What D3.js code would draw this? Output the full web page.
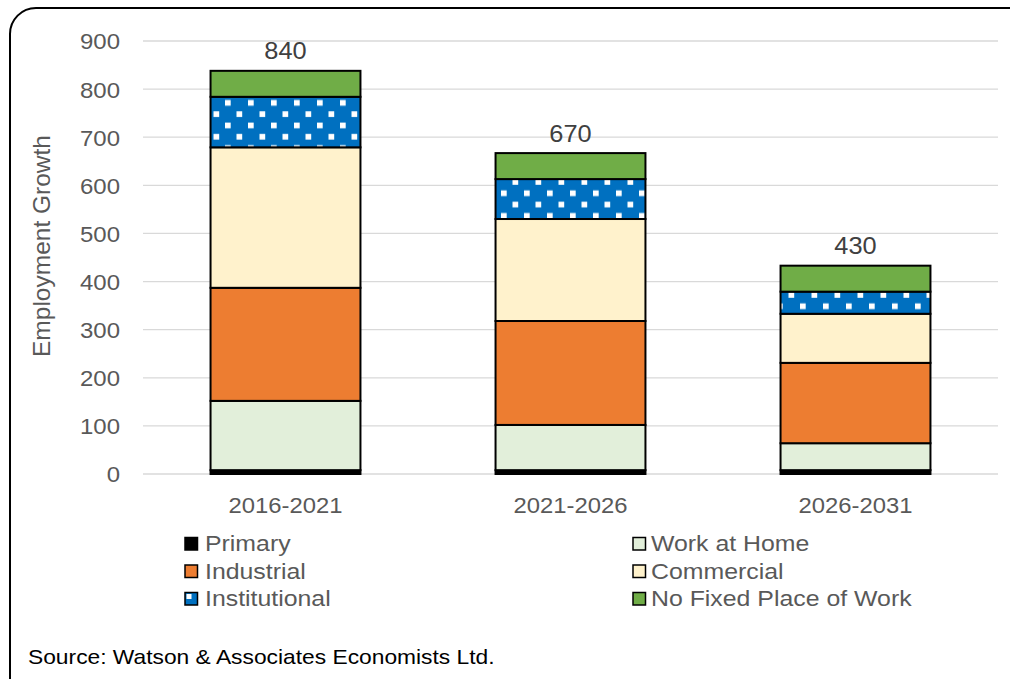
<!DOCTYPE html>
<html><head><meta charset="utf-8">
<script src="https://cdn.jsdelivr.net/npm/d3@7"></script>
<style>body{margin:0;background:#fff;}svg{display:block;font-family:"Liberation Sans",Arial,sans-serif;}</style>
</head><body>
<svg id="c" width="1010" height="679"></svg>
<script>
const categories = ["2016-2021", "2021-2026", "2026-2031"];
const seriesNames = ["Primary", "Work at Home", "Industrial", "Commercial", "Institutional", "No Fixed Place of Work"];
const primary = [8, 8, 8];
const workAtHome = [144, 94, 56];
const industrial = [235, 216, 167];
const commercial = [292, 212, 102];
const institutional = [105, 83, 46];
const noFixedPlace = [54, 54, 54];
const totalLabels = ["840", "670", "430"];
const yTicks = [0, 100, 200, 300, 400, 500, 600, 700, 800, 900];

const colors = ["#000000", "#E2EFDA", "#ED7D31", "#FFF2CC", "url(#dots)", "#70AD47"];
const seriesVals = [primary, workAtHome, industrial, commercial, institutional, noFixedPlace];

const svg = d3.select("#c");
const defs = svg.append("defs");
const pat = defs.append("pattern").attr("id", "dots").attr("patternUnits", "userSpaceOnUse")
  .attr("x", 6).attr("y", 9).attr("width", 23).attr("height", 22.6);
pat.append("rect").attr("width", 23).attr("height", 22.6).attr("fill", "#0070C0");
pat.append("rect").attr("x", 12).attr("y", 0.6).attr("width", 5.7).attr("height", 5.7).attr("fill", "#fff");
pat.append("rect").attr("x", 0.5).attr("y", 11.9).attr("width", 5.7).attr("height", 5.7).attr("fill", "#fff");

function stretch(sel, sx) {
  sel.each(function () {
    const t = d3.select(this);
    const x0 = +t.attr("x") || 0;
    t.attr("transform", `translate(${x0},0) scale(${sx},1) translate(${-x0},0)`);
  });
}

// outer frame
svg.append("rect").attr("x", 10).attr("y", 8).attr("width", 1030).attr("height", 700)
  .attr("rx", 26).attr("ry", 26).attr("fill", "none").attr("stroke", "#000").attr("stroke-width", 2);

const x = d3.scaleBand().domain(categories).range([143, 998]).paddingInner(0.474).paddingOuter(0.237);
const y = d3.scaleLinear().domain([0, 900]).range([474, 41]);

// grid
svg.append("g").selectAll("line").data(yTicks).join("line")
  .attr("x1", 143).attr("x2", 998).attr("y1", d => y(d)).attr("y2", d => y(d))
  .attr("stroke", "#d9d9d9").attr("stroke-width", 1.3);

// y axis labels
const yAxis = d3.axisLeft(y).tickValues(yTicks).tickSize(0).tickPadding(0);
const yg = svg.append("g").attr("transform", "translate(120,0)").call(yAxis);
yg.select(".domain").remove();
yg.selectAll("text").attr("font-size", 22).attr("fill", "#595959").attr("font-family", "Liberation Sans, Arial, sans-serif").attr("dy", "0.36em");
stretch(yg.selectAll("text"), 1.09);

// x axis labels
const xAxis = d3.axisBottom(x).tickSize(0).tickPadding(0);
const xg = svg.append("g").attr("transform", "translate(0,490)").call(xAxis);
xg.select(".domain").remove();
xg.selectAll("text").attr("font-size", 22.5).attr("fill", "#595959").attr("font-family", "Liberation Sans, Arial, sans-serif").attr("y", 23).attr("dy", 0);
stretch(xg.selectAll("text"), 1.06);

// stacked data
const rows = categories.map((c, i) => {
  const o = {cat: c};
  seriesNames.forEach((s, k) => o[s] = seriesVals[k][i]);
  return o;
});
const stacked = d3.stack().keys(seriesNames)(rows);

const bw = x.bandwidth();
stacked.forEach((layer, k) => {
  svg.append("g").selectAll("rect").data(layer).join("rect")
    .attr("x", d => x(d.data.cat))
    .attr("y", d => y(d[1]))
    .attr("width", bw)
    .attr("height", d => y(d[0]) - y(d[1]))
    .attr("fill", colors[k])
    .attr("stroke", "#000").attr("stroke-width", 2);
});

// totals
const topLayer = stacked[stacked.length - 1];
const tot = svg.append("g").selectAll("text").data(topLayer).join("text")
  .attr("x", d => x(d.data.cat) + bw / 2)
  .attr("y", d => y(d[1]) - 11.5)
  .attr("text-anchor", "middle").attr("font-size", 23.5).attr("fill", "#404040")
  .text((d, i) => totalLabels[i]);
stretch(tot, 1.08);

// y title
svg.append("text").attr("transform", "translate(50,246) rotate(-90)")
  .attr("text-anchor", "middle").attr("font-size", 24.5).attr("fill", "#595959")
  .text("Employment Growth");

// legend
const legOrder = [[0, 185, 551.5, 205], [2, 185, 579, 205], [4, 185, 606.5, 205],
                  [1, 633, 551.5, 651], [3, 633, 579, 651], [5, 633, 606.5, 651]];
legOrder.forEach(([k, lx, ly, tx]) => {
  const g = svg.append("g");
  g.append("rect").attr("x", lx).attr("y", ly - 14).attr("width", 12.5).attr("height", 12.5)
    .attr("fill", k === 4 ? "#0070C0" : colors[k]).attr("stroke", "#000").attr("stroke-width", 1.5);
  if (k === 4) {
    g.append("rect").attr("x", lx + 1.5).attr("y", ly - 12.5).attr("width", 5).attr("height", 5).attr("fill", "#fff");
  }
  const t = g.append("text").attr("x", tx).attr("y", ly)
    .attr("font-size", 22).attr("fill", "#595959").text(seriesNames[k]);
  stretch(t, 1.13);
});

// source
const src = svg.append("text").attr("x", 28).attr("y", 664).attr("font-size", 20).attr("fill", "#000")
  .text("Source: Watson & Associates Economists Ltd.");
stretch(src, 1.14);
</script>
</body></html>
